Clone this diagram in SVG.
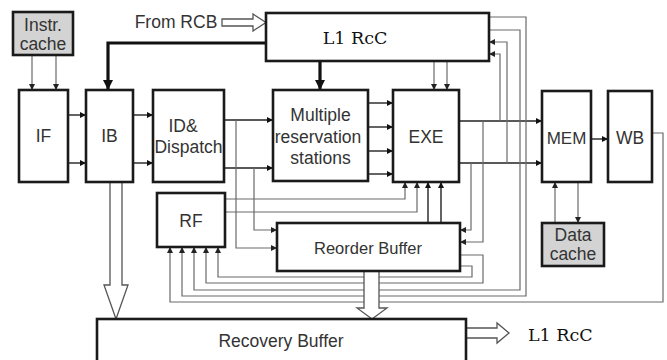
<svg xmlns="http://www.w3.org/2000/svg" width="667" height="360" viewBox="0 0 667 360">
<defs>
<style>
.box{fill:#fff;stroke:#1a1a1a;stroke-width:2.6}
.gbox{fill:#d3d3d3;stroke:#1a1a1a;stroke-width:2.6}
.t{font-family:"Liberation Sans",Arial,sans-serif;font-size:17.5px;fill:#333;text-anchor:middle}
.s{font-family:"DejaVu Serif","Liberation Serif",serif;font-size:17.5px;fill:#111}
.k{fill:none;stroke:#222;stroke-width:1.4}
.g{fill:none;stroke:#6a6a6a;stroke-width:1.2}
.th{fill:none;stroke:#111;stroke-width:3.2}
.h{fill:#fff;stroke:#555;stroke-width:1.3}
</style>
<marker id="ak" viewBox="0 0 10 10" refX="10" refY="5" markerWidth="7" markerHeight="6" markerUnits="userSpaceOnUse" orient="auto"><path d="M0,0L10,5L0,10z" fill="#111"/></marker>
<marker id="ag" viewBox="0 0 10 10" refX="10" refY="5" markerWidth="7" markerHeight="6" markerUnits="userSpaceOnUse" orient="auto"><path d="M0,0L10,5L0,10z" fill="#222"/></marker>
<marker id="at" viewBox="0 0 10 10" refX="10" refY="5" markerWidth="11" markerHeight="10" markerUnits="userSpaceOnUse" orient="auto"><path d="M0,0L10,5L0,10z" fill="#111"/></marker>
</defs>
<rect width="667" height="360" fill="#fff"/>

<g id="connectors">
<!-- instr cache to IF -->
<path class="g" d="M32,55V90" marker-end="url(#ag)"/>
<path class="g" d="M56,55V90" marker-end="url(#ag)"/>
<!-- IF to IB -->
<path class="k" d="M68,115H86" marker-end="url(#ak)"/>
<path class="k" d="M68,163H86" marker-end="url(#ak)"/>
<!-- IB to ID -->
<path class="k" d="M133,115H153" marker-end="url(#ak)"/>
<path class="k" d="M133,163H153" marker-end="url(#ak)"/>
<!-- ID to MRS -->
<path class="k" d="M224,120H273" marker-end="url(#ak)"/>
<path class="k" d="M224,168H273" marker-end="url(#ak)"/>
<!-- ID to ROB -->
<path class="g" d="M236,120V248H277" marker-end="url(#ag)"/>
<path class="g" d="M254,168V230H277" marker-end="url(#ag)"/>
<!-- L1 RcC thick arrows -->
<path class="th" d="M266,43H108V90" marker-end="url(#at)"/>
<path class="th" d="M320,61V90" marker-end="url(#at)"/>
<!-- L1 RcC to EXE -->
<path class="g" d="M434,61V90" marker-end="url(#ag)"/>
<path class="g" d="M447,61V90" marker-end="url(#ag)"/>
<!-- MRS to EXE -->
<path class="k" d="M368,103H393" marker-end="url(#ak)"/>
<path class="k" d="M368,127H393" marker-end="url(#ak)"/>
<path class="k" d="M368,151H393" marker-end="url(#ak)"/>
<path class="k" d="M368,174H393" marker-end="url(#ak)"/>
<!-- EXE to MEM -->
<path class="k" d="M459,121H542" marker-end="url(#ak)"/>
<path class="k" d="M459,163H542" marker-end="url(#ak)"/>
<!-- EXE outputs to L1 RcC -->
<path class="g" d="M500,121V54H489" marker-end="url(#ag)"/>
<path class="g" d="M507,163V42H489" marker-end="url(#ag)"/>
<!-- EXE outputs to ROB -->
<path class="g" d="M483,121V242H460" marker-end="url(#ag)"/>
<path class="g" d="M471,163V230H460" marker-end="url(#ag)"/>
<!-- RF to EXE -->
<path class="g" d="M225,199H405V182" marker-end="url(#ag)"/>
<path class="g" d="M225,212H417V182" marker-end="url(#ag)"/>
<!-- ROB to EXE -->
<path class="k" d="M428,223V182" marker-end="url(#ak)"/>
<path class="k" d="M441,223V182" marker-end="url(#ak)"/>
<!-- loops into RF -->
<path class="g" d="M489,17H526V296H182V247" marker-end="url(#ag)"/>
<path class="g" d="M489,30H520V290H194V247" marker-end="url(#ag)"/>
<path class="g" d="M460,255H483V283H206V247" marker-end="url(#ag)"/>
<path class="g" d="M460,266H472V277H218V247" marker-end="url(#ag)"/>
<path class="g" d="M652,133H663V302H170V247" marker-end="url(#ag)"/>
<!-- MEM to WB -->
<path class="k" d="M591,139H608" marker-end="url(#ak)"/>
<!-- MEM / Data cache -->
<path class="g" d="M555,223V182" marker-end="url(#ag)"/>
<path class="g" d="M578,182V223" marker-end="url(#ag)"/>
<!-- hollow arrows -->
<path class="h" d="M222,19H253V14L266,22.5L253,31V26H222z"/>
<path class="h" d="M110,182V285H104L116,319L128,285H122V182z"/>
<path class="h" d="M364,271V308H357L372,319L387,308H379V271z"/>
<path class="h" d="M466,328H497V323L509,333L497,343V338H466z"/>
</g>

<g id="instr-cache"><rect class="gbox" x="13" y="12" width="60" height="43"/><text class="t" x="43" y="31">Instr.</text><text class="t" x="43" y="50">cache</text></g>
<g id="from-rcb"><text class="t" x="176" y="28">From RCB</text></g>
<g id="l1-rcc"><rect class="box" x="266" y="13" width="223" height="48"/><text class="s" x="355" y="44" text-anchor="middle">L1 RcC</text></g>
<g id="if"><rect class="box" x="19" y="90" width="49" height="92"/><text class="t" x="43.5" y="142">IF</text></g>
<g id="ib"><rect class="box" x="86" y="90" width="47" height="92"/><text class="t" x="109.5" y="142">IB</text></g>
<g id="id-dispatch"><rect class="box" x="153" y="90" width="71" height="92"/><text class="t" x="183" y="132">ID&amp;</text><text class="t" x="188.5" y="153">Dispatch</text></g>
<g id="mrs"><rect class="box" x="273" y="90" width="95" height="91"/><text class="t" x="320.5" y="121">Multiple</text><text class="t" x="318" y="143">reservation</text><text class="t" x="320.5" y="164">stations</text></g>
<g id="exe"><rect class="box" x="393" y="90" width="66" height="92"/><text class="t" x="426" y="143">EXE</text></g>
<g id="mem"><rect class="box" x="542" y="91" width="49" height="91"/><text class="t" x="566.5" y="144" style="font-size:17px">MEM</text></g>
<g id="wb"><rect class="box" x="608" y="91" width="44" height="91"/><text class="t" x="630" y="144">WB</text></g>
<g id="data-cache"><rect class="gbox" x="542" y="223" width="62" height="43"/><text class="t" x="573" y="241">Data</text><text class="t" x="573" y="260">cache</text></g>
<g id="rf"><rect class="box" x="157" y="193" width="68" height="54"/><text class="t" x="191" y="227">RF</text></g>
<g id="rob"><rect class="box" x="277" y="223" width="183" height="48"/><text class="t" x="368" y="254" style="font-size:16.5px">Reorder Buffer</text></g>
<g id="recovery-buffer"><rect class="box" x="97" y="319" width="369" height="45"/><text class="t" x="281" y="347">Recovery Buffer</text></g>
<g id="l1-rcc-out"><text class="s" x="528" y="341">L1 RcC</text></g>
</svg>
